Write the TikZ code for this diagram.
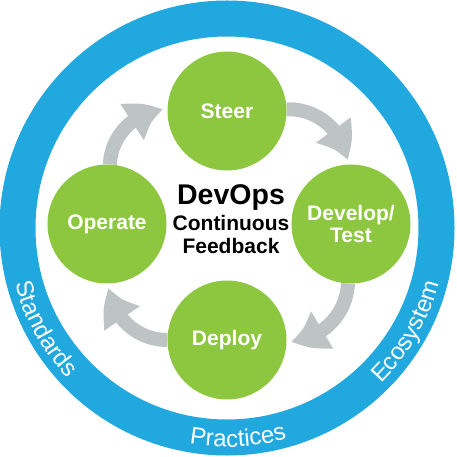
\documentclass[tikz,border=0pt]{standalone}
\usepackage{fontspec}
\setmainfont{Liberation Sans}
\usetikzlibrary{arrows.meta,bending,decorations.text,backgrounds}
\definecolor{dvblue}{RGB}{32, 168, 223}
\definecolor{dvgreen}{RGB}{141, 198, 63}
\definecolor{dvgray}{RGB}{190, 196, 196}
\newcommand{\ringfont}{\fontsize{24}{24}\selectfont\color{white}}

\begin{document}
\begin{tikzpicture}[x=1pt, y=1pt,
  stage/.style={circle, fill=dvgreen, minimum size=119pt, inner sep=0pt, text=white, align=center, font=\bfseries\fontsize{21}{22.5}\selectfont},
  flow/.style={dvgray, line width=14pt, -{Triangle[length=35pt, width=40pt, bend]}, shorten >=4pt},
  hubtext/.style={anchor=base, font=\bfseries\fontsize{21}{21}\selectfont},
  ringtext/.style={decoration={text along path, text align=center}, decorate}]
\useasboundingbox (-227,-229) rectangle (229,228);

% Outer ring
\draw[dvblue, line width=36pt] (0,0) circle[radius=209.5];

% Ring labels
\path[ringtext, decoration={text={|\ringfont|Standards}}] (169:219) arc[start angle=169, end angle=249, radius=219];
\path[ringtext, decoration={text={|\ringfont|Practices}}] (233:219) arc[start angle=233, end angle=313, radius=219];
\path[ringtext, decoration={text={|\ringfont|Ecosystem}}] (290:219) arc[start angle=290, end angle=370, radius=219];

% Stages
\node[stage] (steer) at (0,117) {Steer};
\node[stage] (devtest) at (124,4) {Develop/\\Test};
\node[stage] (deploy) at (0,-112) {Deploy};
\node[stage] (operate) at (-120,4) {Operate};

% Feedback loop
\begin{scope}[on background layer]
\draw[flow] (steer) to[bend left=44] (devtest);
\draw[flow] (devtest) to[bend left=44] (deploy);
\draw[flow] (deploy) to[bend left=44] (operate);
\draw[flow] (operate) to[bend left=44] (steer);
\end{scope}

% Centre text
\node[hubtext, font=\bfseries\fontsize{28.5}{28.5}\selectfont] (devops) at (4,23) {DevOps};
\node[hubtext] (cont) at (4,-3) {Continuous};
\node[hubtext] (feedb) at (4,-26) {Feedback};
\end{tikzpicture}
\end{document}
